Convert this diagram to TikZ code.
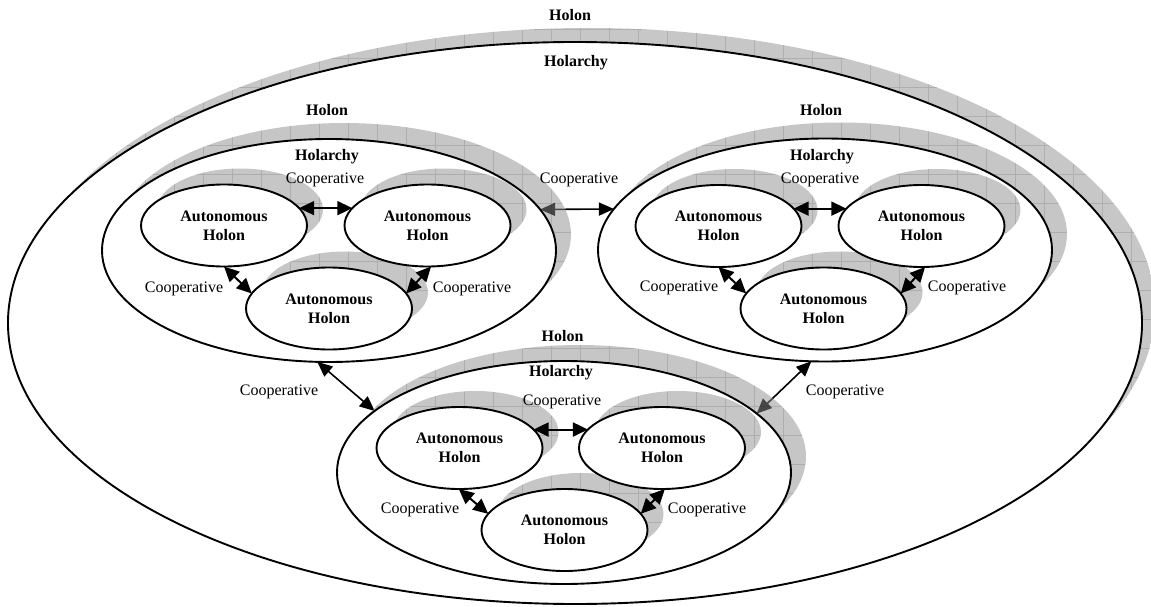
\documentclass[tikz,border=0pt]{standalone}
\usepackage{fontspec}
\setmainfont{Liberation Serif}
\usetikzlibrary{arrows.meta,shapes.geometric}

\definecolor{shadowgray}{RGB}{143,143,143}

% drawing layers, bottom to top
\pgfdeclarelayer{outershadow}
\pgfdeclarelayer{outerbody}
\pgfdeclarelayer{holonlinks}
\pgfdeclarelayer{holonshadow}
\pgfdeclarelayer{holonbody}
\pgfdeclarelayer{agentshadow}
\pgfsetlayers{outershadow,outerbody,holonlinks,holonshadow,holonbody,agentshadow,main}

% crescent shadow behind an ellipse: #1 centre, #2 x radius, #3 y radius, #4 offset
\newcommand\castshadow[4]{%
  \begin{scope}
    \clip ([shift={(#4)}]#1) ellipse [x radius=#2pt, y radius=#3pt];
    \fill[shadowgray, fill opacity=0.5] (-10,-30) rectangle (1180,630);
    \draw[black, draw opacity=0.12, line width=0.6pt, step=29pt] (-10,-30) grid (1180,630);
  \end{scope}}

\tikzset{
  txt/.style={font=\fontsize{16}{19}\selectfont},
  title/.style={font=\fontsize{16}{19}\selectfont\bfseries},
  ring/.style={ellipse, draw=black, line width=1.9pt, fill=white, inner sep=0pt, outer sep=0pt},
  holarchy/.style={ring, minimum width=1134pt, minimum height=562pt},
  holon/.style={ring, minimum width=454pt, minimum height=223pt},
  agent/.style={ring, minimum width=166pt, minimum height=82pt, align=center,
                font=\fontsize{16}{19}\selectfont\bfseries},
  link/.style={line width=2pt, {Triangle[length=15pt,width=14pt]}-{Triangle[length=15pt,width=14pt]}},
  bridge/.style={line width=1.6pt, {Triangle[length=15pt,width=13pt]}-{Triangle[length=15pt,width=13pt]}},
}

\begin{document}
\begin{tikzpicture}[x=1pt,y=-1pt]
\useasboundingbox (0,0) rectangle (1151,607);

% centres
\coordinate (cO) at (575,323);
\coordinate (cA) at (329,250.5);
\coordinate (cB) at (825,250);
\coordinate (cC) at (564,472.5);
\coordinate (pa1) at (224,225.5);
\coordinate (pa2) at (427.5,225.5);
\coordinate (pa3) at (329,308.5);
\coordinate (pb1) at (718.5,226);
\coordinate (pb2) at (921.5,226);
\coordinate (pb3) at (823.5,308.5);
\coordinate (pc1) at (459.5,448);
\coordinate (pc2) at (662,448);
\coordinate (pc3) at (564.5,530);

% outermost holon
\begin{pgfonlayer}{outershadow}
  \castshadow{cO}{567}{281}{13,-14}
\end{pgfonlayer}
\begin{pgfonlayer}{outerbody}
  \node[holarchy] (world) at (cO) {};
\end{pgfonlayer}

% the three member holons
\begin{pgfonlayer}{holonshadow}
  \castshadow{cA}{227}{111.5}{15,-16}
  \castshadow{cB}{227}{111.5}{15,-16}
  \castshadow{cC}{227}{111.5}{15,-16}
\end{pgfonlayer}
\begin{pgfonlayer}{holonbody}
  \node[holon] (hA) at (cA) {};
  \node[holon] (hB) at (cB) {};
  \node[holon] (hC) at (cC) {};
\end{pgfonlayer}

% autonomous holons
\begin{pgfonlayer}{agentshadow}
  \foreach \p in {pa1,pa2,pa3,pb1,pb2,pb3,pc1,pc2,pc3}{\castshadow{\p}{83}{41}{16,-16}}
\end{pgfonlayer}
\node[agent] (a1) at (pa1) {Autonomous\\Holon};
\node[agent] (a2) at (pa2) {Autonomous\\Holon};
\node[agent] (a3) at (pa3) {Autonomous\\Holon};
\node[agent] (b1) at (pb1) {Autonomous\\Holon};
\node[agent] (b2) at (pb2) {Autonomous\\Holon};
\node[agent] (b3) at (pb3) {Autonomous\\Holon};
\node[agent] (c1) at (pc1) {Autonomous\\Holon};
\node[agent] (c2) at (pc2) {Autonomous\\Holon};
\node[agent] (c3) at (pc3) {Autonomous\\Holon};

% cooperation inside each holarchy
\draw[link] (a1.13) -- (a2.167);
\draw[link] (a1.-90) -- (a3.169);
\draw[link] (a2.-85) -- (a3.11);
\draw[link] (b1.13) -- (b2.167);
\draw[link] (b1.-90) -- (b3.169);
\draw[link] (b2.-85) -- (b3.11);
\draw[link] (c1.14) -- (c2.166);
\draw[link] (c1.-91) -- (c3.168);
\draw[link] (c2.-86) -- (c3.12);

% cooperation between the member holons
\begin{pgfonlayer}{holonlinks}
  \draw[bridge] (hA.11) -- (hB.169);
  \draw[bridge] (hA.-96) -- (hC.162);
  \draw[bridge] (hB.-97) -- (hC.17);
\end{pgfonlayer}

% titles
\node[title] (tO1) at (570,15) {Holon};
\node[title] (tO2) at (576,63) {Holarchy};
\node[title] (tA1) at (327,110) {Holon};
\node[title] (tA2) at (327,157) {Holarchy};
\node[title] (tB1) at (821,110) {Holon};
\node[title] (tB2) at (822,157) {Holarchy};
\node[title] (tC1) at (562.5,336) {Holon};
\node[title] (tC2) at (561,373) {Holarchy};

% cooperation labels
\node[txt] (kA1) at (325,180) {Cooperative};
\node[txt] (kA2) at (184,289) {Cooperative};
\node[txt] (kA3) at (472,289) {Cooperative};
\node[txt] (kB1) at (820,180) {Cooperative};
\node[txt] (kB2) at (679,288) {Cooperative};
\node[txt] (kB3) at (967,288) {Cooperative};
\node[txt] (kC1) at (562,402) {Cooperative};
\node[txt] (kC2) at (420,510) {Cooperative};
\node[txt] (kC3) at (707,510) {Cooperative};
\node[txt] (kX1) at (579,180) {Cooperative};
\node[txt] (kX2) at (279,392) {Cooperative};
\node[txt] (kX3) at (845,392) {Cooperative};
\end{tikzpicture}
\end{document}
